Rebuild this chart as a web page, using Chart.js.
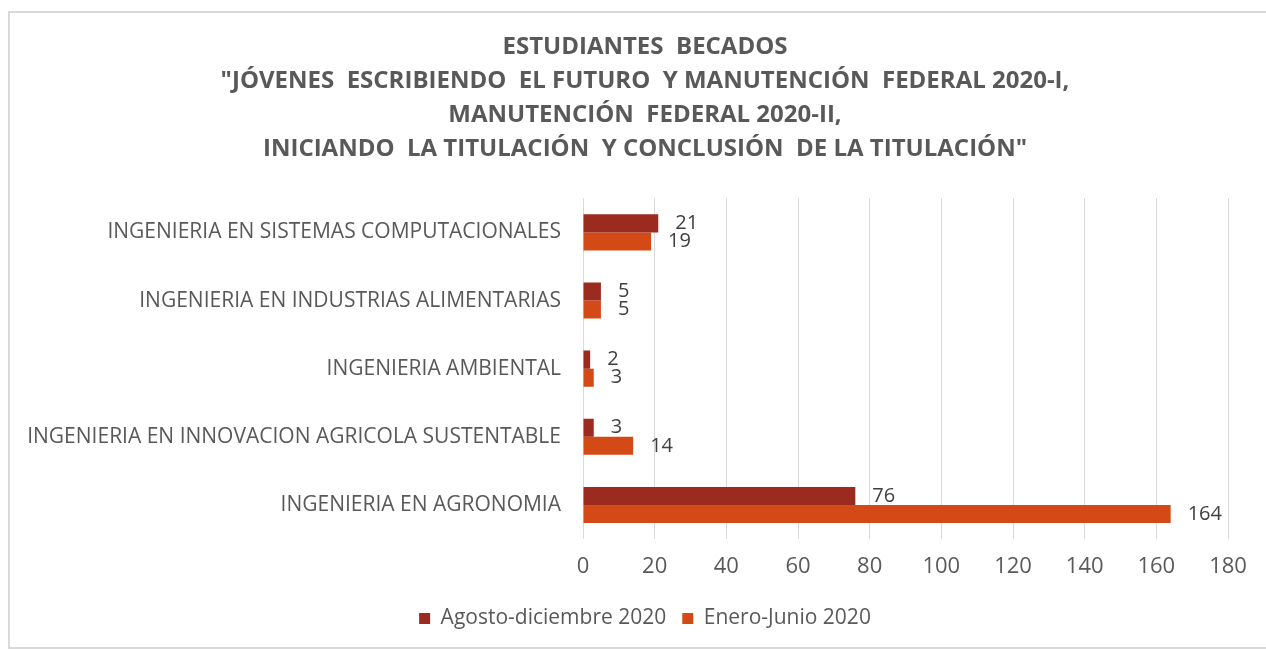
<!DOCTYPE html>
<html lang="es">
<head>
    <meta charset="UTF-8">
    <title>Estudiantes becados</title>
    <script src="https://cdn.jsdelivr.net/npm/chart.js"></script>
    <style>
        body { margin: 0; background: #fff; overflow: hidden; }
        #frame { position: absolute; left: 8px; top: 11px; width: 1300px; height: 634px; border: 2px solid #d9d9d9; }
        #chart { position: absolute; left: 0; top: 0; }
    </style>
</head>
<body>
    <div id="frame"></div>
    <canvas id="chart" width="1266" height="649"></canvas>
    <script>
        // datos
        const carreras = [
            'INGENIERIA EN SISTEMAS COMPUTACIONALES',
            'INGENIERIA EN INDUSTRIAS ALIMENTARIAS',
            'INGENIERIA AMBIENTAL',
            'INGENIERIA EN INNOVACION AGRICOLA SUSTENTABLE',
            'INGENIERIA EN AGRONOMIA'
        ];
        const agostoDiciembre = [21, 5, 2, 3, 76];
        const eneroJunio = [19, 5, 3, 14, 164];
        const titulo = [
            'ESTUDIANTES  BECADOS',
            '"JÓVENES  ESCRIBIENDO  EL FUTURO  Y MANUTENCIÓN  FEDERAL 2020-I,',
            'MANUTENCIÓN  FEDERAL 2020-II,',
            'INICIANDO  LA TITULACIÓN  Y CONCLUSIÓN  DE LA TITULACIÓN"'
        ];

        const fuente = "'Open Sans', sans-serif";

        // etiquetas de valor al final de cada barra
        const etiquetas = {
            id: 'etiquetas',
            afterDatasetsDraw(chart) {
                const ctx = chart.ctx;
                ctx.save();
                ctx.font = '20px ' + fuente;
                ctx.fillStyle = '#404040';
                ctx.textAlign = 'left';
                ctx.textBaseline = 'middle';
                chart.data.datasets.forEach(function(ds, i) {
                    chart.getDatasetMeta(i).data.forEach(function(bar, j) {
                        ctx.fillText(ds.data[j], bar.x + 17, bar.y);
                    });
                });
                ctx.restore();
            }
        };

        new Chart(document.getElementById('chart'), {
            type: 'bar',
            data: {
                labels: carreras,
                datasets: [{
                    label: 'Agosto-diciembre 2020',
                    data: agostoDiciembre,
                    backgroundColor: '#9b2b1f'
                }, {
                    label: 'Enero-Junio 2020',
                    data: eneroJunio,
                    backgroundColor: '#d34a17'
                }]
            },
            options: {
                indexAxis: 'y',
                responsive: false,
                animation: false,
                categoryPercentage: 0.53,
                barPercentage: 1,
                layout: { padding: { left: 24, right: 0, top: 0, bottom: 10 } },
                scales: {
                    x: {
                        min: 0,
                        max: 180,
                        ticks: { stepSize: 20, color: '#595959', font: { family: fuente, size: 22 }, padding: 15 },
                        grid: { color: '#d9d9d9', drawTicks: false },
                        border: { display: false },
                        afterFit(s) { s.height = 53; }
                    },
                    y: {
                        ticks: { color: '#595959', font: { family: fuente, size: 21 }, padding: 22 },
                        grid: { display: false, drawTicks: false },
                        border: { display: false },
                        afterFit(s) { s.width = 559; }
                    },
                    // margen derecho vacio
                    y2: {
                        axis: 'y',
                        position: 'right',
                        ticks: { display: false },
                        grid: { display: false, drawTicks: false },
                        border: { display: false },
                        afterFit(s) { s.width = 38; }
                    }
                },
                plugins: {
                    title: {
                        display: true,
                        text: titulo,
                        color: '#595959',
                        font: { family: fuente, size: 24, weight: 'bold', lineHeight: 1.42 },
                        padding: { top: 30, bottom: 32 }
                    },
                    legend: {
                        position: 'bottom',
                        labels: { color: '#595959', boxWidth: 11, boxHeight: 11, padding: 16, font: { family: fuente, size: 21 } }
                    },
                    tooltip: { enabled: false }
                }
            },
            plugins: [etiquetas]
        });
    </script>
</body>
</html>
